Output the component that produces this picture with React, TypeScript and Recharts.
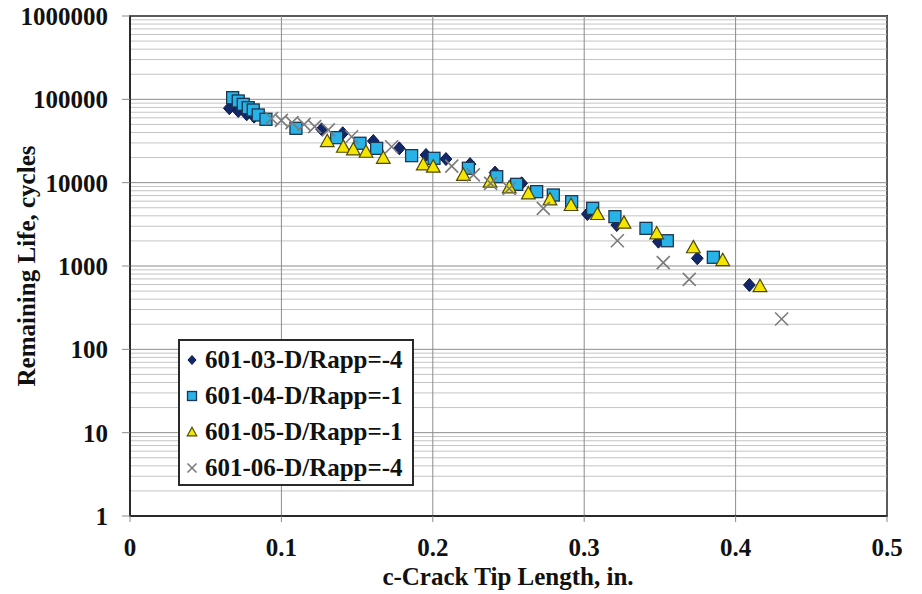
import {
  ScatterChart,
  Scatter,
  XAxis,
  YAxis,
  ReferenceLine,
  ReferenceArea,
  Legend,
} from 'recharts';

// crack tip length (in.) vs remaining life (cycles), one pair of arrays per specimen
const rapp03X = [0.0656, 0.0715, 0.0771, 0.082, 0.1266, 0.1405, 0.1607, 0.1779, 0.1955, 0.2087, 0.2246, 0.2411, 0.2587, 0.3021, 0.3215, 0.349, 0.3747, 0.4091];
const rapp03Y = [78100, 72400, 66100, 62000, 43700, 39200, 31600, 25800, 21500, 19200, 16700, 13200, 9820, 4210, 3100, 1960, 1237, 592];

const rapp04X = [0.0678, 0.0715, 0.0748, 0.0781, 0.0814, 0.0847, 0.0898, 0.1096, 0.1365, 0.1519, 0.1629, 0.186, 0.2008, 0.2235, 0.2422, 0.2554, 0.2686, 0.2796, 0.2917, 0.3056, 0.3203, 0.3408, 0.3549, 0.3853];
const rapp04Y = [104700, 95500, 87100, 79400, 74500, 64900, 57600, 44900, 34700, 29700, 25800, 21100, 19600, 14900, 11800, 9550, 7800, 7110, 5910, 4920, 3910, 2830, 2010, 1272];

const rapp05X = [0.1303, 0.1409, 0.1475, 0.1559, 0.1673, 0.1937, 0.2003, 0.2202, 0.2378, 0.2505, 0.2631, 0.2774, 0.2913, 0.3087, 0.3263, 0.3479, 0.3721, 0.3915, 0.4161];
const rapp05Y = [31600, 27000, 25100, 23500, 19900, 16600, 15600, 12400, 10300, 8790, 7450, 6310, 5400, 4210, 3310, 2470, 1680, 1180, 575];

const rapp06X = [0.0935, 0.1, 0.107, 0.115, 0.122, 0.131, 0.1464, 0.1728, 0.2125, 0.2268, 0.2382, 0.2505, 0.273, 0.3219, 0.3522, 0.3694, 0.4304];
const rapp06Y = [58800, 56000, 52500, 50000, 47000, 43000, 35600, 27000, 15800, 12400, 9820, 8500, 4920, 2010, 1096, 692, 231];

const seriesNames = ['601-03-D/Rapp=-4', '601-04-D/Rapp=-1', '601-05-D/Rapp=-1', '601-06-D/Rapp=-4'];

const xTicks = [0, 0.1, 0.2, 0.3, 0.4, 0.5];
const decades = [1, 10, 100, 1000, 10000, 100000, 1000000];
const minorLines = decades.slice(0, -1).flatMap(d => [2, 3, 4, 5, 6, 7, 8, 9].map(m => m * d));

const toPoints = (xs: number[], ys: number[]) => xs.map((x, i) => ({ x, y: ys[i] }));

const FONT = '"Liberation Serif", "Times New Roman", serif';
const INK = '#111';

type MarkerKind = 'diamond' | 'square' | 'triangle' | 'cross';
const markerKinds: MarkerKind[] = ['diamond', 'square', 'triangle', 'cross'];

function Marker({ kind, cx, cy, r }: { kind: MarkerKind; cx: number; cy: number; r: number }) {
  switch (kind) {
    case 'diamond':
      return (
        <polygon
          points={`${cx},${cy - r} ${cx + r * 0.9},${cy} ${cx},${cy + r} ${cx - r * 0.9},${cy}`}
          fill="#13276b"
          stroke="#0a1645"
          strokeWidth={1}
        />
      );
    case 'square':
      return (
        <rect x={cx - r} y={cy - r} width={r * 2} height={r * 2} fill="#28b3e8" stroke="#1c3550" strokeWidth={1.3} />
      );
    case 'triangle':
      return (
        <polygon
          points={`${cx},${cy - r * 1.05} ${cx + r * 1.05},${cy + r * 0.85} ${cx - r * 1.05},${cy + r * 0.85}`}
          fill="#f4e600"
          stroke="#4f4a00"
          strokeWidth={1.2}
        />
      );
    default:
      return (
        <g stroke="#7b7b7b" strokeWidth={1.6}>
          <line x1={cx - r} y1={cy - r} x2={cx + r} y2={cy + r} />
          <line x1={cx - r} y1={cy + r} x2={cx + r} y2={cy - r} />
        </g>
      );
  }
}

const shapeFor = (kind: MarkerKind, r: number) => (props: any) =>
  <Marker kind={kind} cx={props.cx} cy={props.cy} r={r} />;

const isDecade = (v: number) => Math.abs(Math.log10(v) - Math.round(Math.log10(v))) < 1e-9;

function YTick({ x, y, payload }: any) {
  if (!isDecade(payload.value)) return <g />;
  return (
    <g>
      <line x1={x - 8} x2={x} y1={y} y2={y} stroke="#8a8a8a" strokeWidth={1} />
      <text x={x - 22} y={y} dy={9} textAnchor="end" fontFamily={FONT} fontWeight="bold" fontSize={25} fill={INK}>
        {payload.value}
      </text>
    </g>
  );
}

function XTick({ x, y, payload }: any) {
  return (
    <g>
      <line x1={x} x2={x} y1={y} y2={y + 6} stroke="#8a8a8a" strokeWidth={1} />
      <text x={x} y={y} dy={40} textAnchor="middle" fontFamily={FONT} fontWeight="bold" fontSize={25} fill={INK}>
        {payload.value}
      </text>
    </g>
  );
}

function LegendBox({ payload }: any) {
  return (
    <div
      style={{
        width: 236,
        height: 147,
        boxSizing: 'border-box',
        border: '2px solid #2a2a2a',
        background: '#fff',
        paddingTop: 1,
      }}
    >
      {(payload ?? []).map((entry: any, i: number) => (
        <div key={entry.value} style={{ display: 'flex', alignItems: 'center', height: 36 }}>
          <svg width={24} height={36} style={{ flex: 'none' }}>
            <Marker kind={markerKinds[i]} cx={12} cy={18} r={4.5} />
          </svg>
          <span
            style={{
              fontFamily: FONT,
              fontWeight: 'bold',
              fontSize: 25,
              color: INK,
              marginLeft: 1,
              whiteSpace: 'nowrap',
            }}
          >
            {entry.value}
          </span>
        </div>
      ))}
    </div>
  );
}

export default function App() {
  return (
    <div style={{ position: 'absolute', left: 0, top: 0, width: 922, height: 594 }}>
      <ScatterChart width={922} height={594} margin={{ top: 16, right: 35, bottom: 0, left: 0 }}>
        {minorLines.map(v => (
          <ReferenceLine key={`m${v}`} y={v} stroke="#c4c4c4" strokeWidth={1} />
        ))}
        {decades.map(v => (
          <ReferenceLine key={`d${v}`} y={v} stroke="#8c8c8c" strokeWidth={1} />
        ))}
        {xTicks.map(v => (
          <ReferenceLine key={`x${v}`} x={v} stroke="#8c8c8c" strokeWidth={1} />
        ))}
        <ReferenceArea x1={0} x2={0.5} y1={1} y2={1000000} fill="none" stroke="#2a2a2a" strokeWidth={2} />
        <XAxis
          type="number"
          dataKey="x"
          domain={[0, 0.5]}
          ticks={xTicks}
          height={78}
          tickSize={0}
          tickMargin={0}
          tick={<XTick />}
          axisLine={{ stroke: '#2a2a2a', strokeWidth: 2 }}
          label={{
            content: () => (
              <text x={508} y={585} textAnchor="middle" fontFamily={FONT} fontWeight="bold" fontSize={25} fill={INK}>
                c-Crack Tip Length, in.
              </text>
            ),
          }}
        />
        <YAxis
          type="number"
          dataKey="y"
          scale="log"
          domain={[1, 1000000]}
          allowDataOverflow
          ticks={decades}
          width={130}
          tickSize={0}
          tickMargin={0}
          tick={<YTick />}
          axisLine={{ stroke: '#2a2a2a', strokeWidth: 2 }}
          label={{
            content: () => (
              <text
                x={35}
                y={266}
                transform="rotate(-90 35 266)"
                textAnchor="middle"
                fontFamily={FONT}
                fontWeight="bold"
                fontSize={25}
                fill={INK}
              >
                Remaining Life, cycles
              </text>
            ),
          }}
        />
        <Legend
          layout="vertical"
          align="center"
          verticalAlign="middle"
          wrapperStyle={{ left: 178, top: 339, width: 236, height: 147 }}
          content={<LegendBox />}
        />
        <Scatter
          name={seriesNames[0]}
          data={toPoints(rapp03X, rapp03Y)}
          shape={shapeFor('diamond', 6.5)}
          isAnimationActive={false}
        />
        <Scatter
          name={seriesNames[1]}
          data={toPoints(rapp04X, rapp04Y)}
          shape={shapeFor('square', 6)}
          isAnimationActive={false}
        />
        <Scatter
          name={seriesNames[2]}
          data={toPoints(rapp05X, rapp05Y)}
          shape={shapeFor('triangle', 6.5)}
          isAnimationActive={false}
        />
        <Scatter
          name={seriesNames[3]}
          data={toPoints(rapp06X, rapp06Y)}
          shape={shapeFor('cross', 6.5)}
          isAnimationActive={false}
        />
      </ScatterChart>
    </div>
  );
}
